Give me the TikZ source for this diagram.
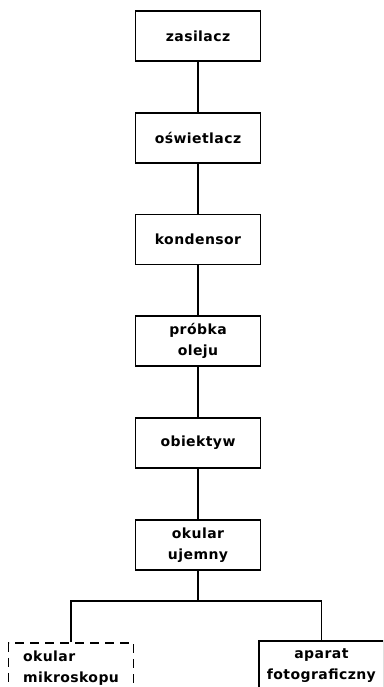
\documentclass[tikz,border=0pt]{standalone}
\usepackage{fontspec}
\setmainfont{DejaVu Sans}[LetterSpace=3]
\usetikzlibrary{positioning}
\tikzset{
  blok/.style={draw, line width=1.8pt, minimum width=125pt, minimum height=50pt,
    align=center, inner sep=2pt, font=\bfseries\fontsize{14}{21}\selectfont},
  blokprzer/.style={blok, dash pattern=on 9pt off 6pt},
  linia/.style={line width=1.8pt}
}
\begin{document}
\begin{tikzpicture}[x=1pt, y=-1pt, node distance=50pt]
        \useasboundingbox (0,0) rectangle (383,687);
        \clip (0,0) rectangle (383,687);

        % Bloki w kolumnie
        \node[blok, anchor=north] (zas) at (198,10) {zasilacz};
        \node[blok, below=of zas] (osw) {oświetlacz};
        \node[blok, below=of osw] (kond) {kondensor};
        \node[blok, below=of kond] (probka) {próbka\\oleju};
        \node[blok, below=of probka] (obj) {obiektyw};
        \node[blok, below=of obj] (okuj) {okular\\ujemny};

        % Rozgałęzienie
        \coordinate (rozg) at (198,601);

        % Bloki na dole
        \node[blokprzer, anchor=north, align=left] (okmikr) at (71,642) {okular\\mikroskopu};
        \node[blok, anchor=north west] (aparat) at (258,640) {aparat\\fotograficzny};

        % Połączenia
        \draw[linia] (zas) -- (osw);
        \draw[linia] (osw) -- (kond);
        \draw[linia] (kond) -- (probka);
        \draw[linia] (probka) -- (obj);
        \draw[linia] (obj) -- (okuj);
        \draw[linia] (okuj) -- (rozg);
        \draw[linia] (okmikr.north) |- (rozg) -| (aparat.north);
\end{tikzpicture}
\end{document}
